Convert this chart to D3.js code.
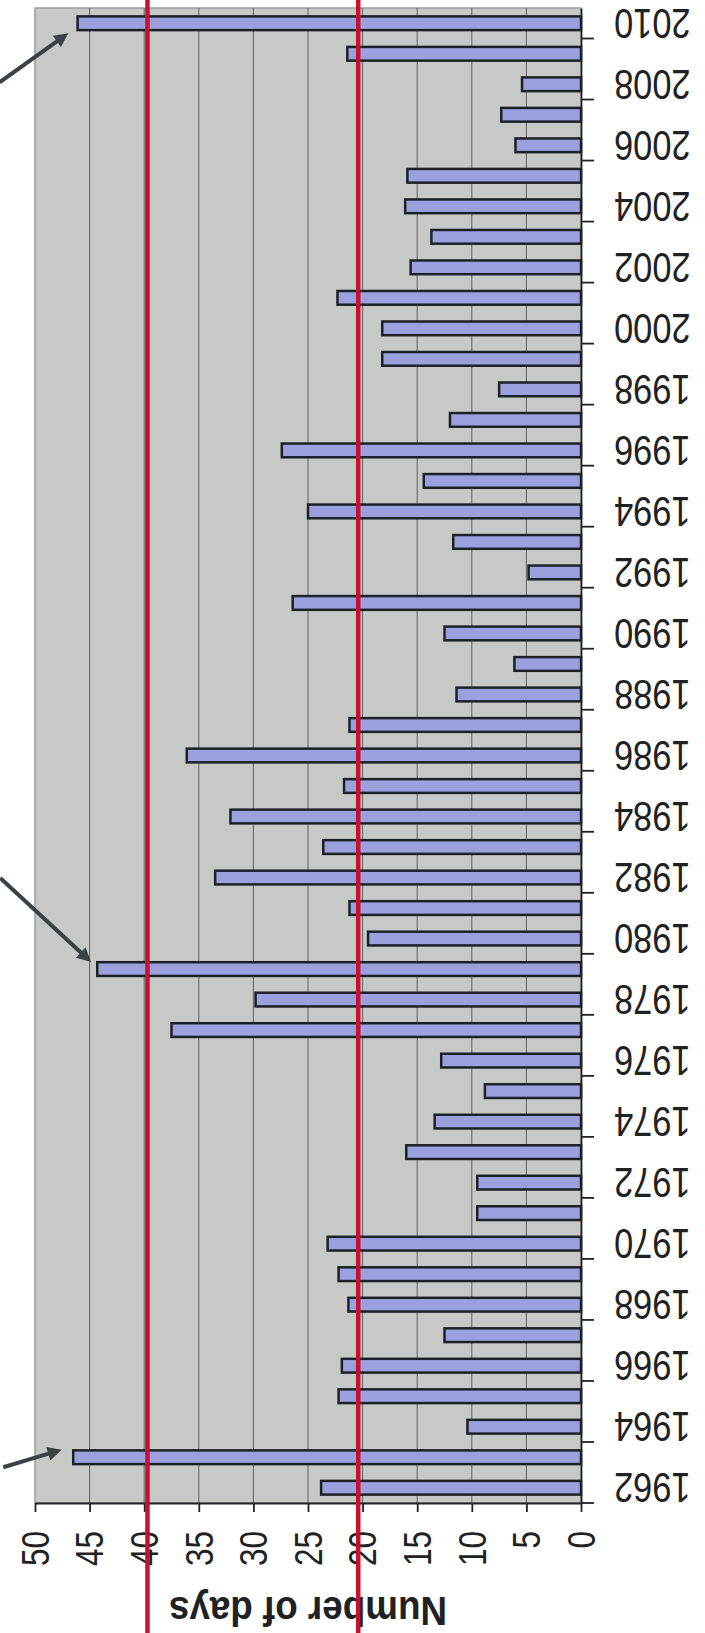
<!DOCTYPE html>
<html>
<head>
<meta charset="utf-8">
<script src="https://cdn.jsdelivr.net/npm/d3@7"></script>
<style>
  body { margin: 0; background: #fff; }
  svg { display: block; }
  .axis path, .axis line { stroke: #1e2224; stroke-width: 1.8; }
  .axis text { font-family: "Liberation Sans", Arial, sans-serif; fill: #1e2224; }
</style>
</head>
<body>
<div id="chart-area"></div>
<script>
// DATA

const years = [1962, 1963, 1964, 1965, 1966, 1967, 1968, 1969, 1970, 1971,
  1972, 1973, 1974, 1975, 1976, 1977, 1978, 1979, 1980, 1981,
  1982, 1983, 1984, 1985, 1986, 1987, 1988, 1989, 1990, 1991,
  1992, 1993, 1994, 1995, 1996, 1997, 1998, 1999, 2000, 2001,
  2002, 2003, 2004, 2005, 2006, 2007, 2008, 2009, 2010];

const days = [23.8, 46.5, 10.4, 22.2, 21.9, 12.5, 21.3, 22.2, 23.2, 9.5,
  9.5, 16.0, 13.4, 8.8, 12.8, 37.5, 29.8, 44.3, 19.5, 21.2,
  33.5, 23.6, 32.1, 21.7, 36.1, 21.2, 11.4, 6.1, 12.5, 26.4,
  4.8, 11.7, 25.0, 14.4, 27.4, 12.0, 7.5, 18.2, 18.2, 22.3,
  15.6, 13.7, 16.1, 15.9, 6.0, 7.3, 5.4, 21.4, 46.1];

const yearLabels = [1962, 1964, 1966, 1968, 1970, 1972, 1974, 1976, 1978, 1980,
  1982, 1984, 1986, 1988, 1990, 1992, 1994, 1996, 1998, 2000,
  2002, 2004, 2006, 2008, 2010];

const dayTicks = [0, 5, 10, 15, 20, 25, 30, 35, 40, 45, 50];

const referenceLines = [39.7, 20.4];

const flaggedYears = [2010, 1979, 1963];

// CHART AREA

let width = 705,
  height = 1633;

let plot = { left: 35, right: 581, top: 8, bottom: 1503 };

let svg = d3
  .select("#chart-area")
  .append("svg")
  .attr("width", width)
  .attr("height", height);

let data = years.map(function(yr, i) {
  return { year: yr, days: days[i] };
});

// SCALES (the chart is drawn turned on its side: days run right to left)

let x = d3.scaleLinear().domain([0, 50]).range([plot.right, plot.left]);

let y = d3
  .scaleBand()
  .domain(years.slice().reverse())
  .range([plot.top, plot.bottom])
  .paddingInner(0.55)
  .paddingOuter(0.275);

// plot background
svg
  .append("rect")
  .attr("x", plot.left)
  .attr("y", plot.top)
  .attr("width", plot.right - plot.left)
  .attr("height", plot.bottom - plot.top)
  .attr("fill", "#c6c9c6")
  .attr("stroke", "#9a9d9a")
  .attr("stroke-width", 1.5);

// gridlines
svg
  .append("g")
  .selectAll("line")
  .data(dayTicks.filter(d => d > 0 && d < 50))
  .enter()
  .append("line")
  .attr("x1", d => x(d))
  .attr("x2", d => x(d))
  .attr("y1", plot.top)
  .attr("y2", plot.bottom)
  .attr("stroke", "#5e6260")
  .attr("stroke-width", 1);

// ---- DRAW BARS ----
svg
  .append("g")
  .selectAll(".bar")
  .data(data)
  .enter()
  .append("rect")
  .attr("class", "bar")
  .attr("x", d => x(d.days))
  .attr("y", d => y(d.year))
  .attr("width", d => x(0) - x(d.days))
  .attr("height", y.bandwidth())
  .attr("fill", "#9ca0de")
  .attr("stroke", "#1a2228")
  .attr("stroke-width", 2.5);

// ---- DRAW AXIS ----
let xAxis = d3
  .axisBottom(x)
  .tickValues(dayTicks)
  .tickSize(9)
  .tickSizeOuter(0);

let xAxisGroup = svg
  .append("g")
  .attr("class", "x-axis axis")
  .attr("transform", "translate(0," + plot.bottom + ")")
  .call(xAxis);

xAxisGroup
  .selectAll("text")
  .attr("x", 0)
  .attr("y", 0)
  .attr("dy", "0.35em")
  .style("font-size", "38px")
  .style("text-anchor", "end")
  .attr("transform", "translate(0,28) scale(1,0.83) rotate(-90)");

let yAxis = d3
  .axisRight(y)
  .tickValues(yearLabels)
  .tickSize(0)
  .tickSizeOuter(0);

let yAxisGroup = svg
  .append("g")
  .attr("class", "y-axis axis")
  .attr("transform", "translate(" + plot.right + ",0)")
  .call(yAxis);

yAxisGroup
  .selectAll("text")
  .attr("x", 0)
  .attr("y", 0)
  .attr("dy", "0.35em")
  .style("font-size", "42px")
  .style("text-anchor", "end")
  .attr("transform", "translate(33,0) scale(0.82,1) rotate(180)");

// tick marks sit between every second pair of years
yAxisGroup
  .selectAll(".year-tick")
  .data(yearLabels)
  .enter()
  .append("line")
  .attr("class", "year-tick")
  .attr("x1", 0)
  .attr("x2", 13)
  .attr("y1", d => y(d) + y.bandwidth() / 2 + y.step() / 2)
  .attr("y2", d => y(d) + y.bandwidth() / 2 + y.step() / 2);

svg
  .append("text")
  .attr("class", "axis-title")
  .attr("transform", "translate(" + (plot.left + plot.right) / 2 + ",1597) scale(0.92,1) rotate(180)")
  .style("text-anchor", "middle")
  .style("font-family", "'Liberation Sans', Arial, sans-serif")
  .style("font-weight", "bold")
  .style("font-size", "40px")
  .attr("fill", "#1e2224")
  .text("Number of days");

// reference lines
svg
  .append("g")
  .selectAll("line")
  .data(referenceLines)
  .enter()
  .append("line")
  .attr("x1", d => x(d))
  .attr("x2", d => x(d))
  .attr("y1", 0)
  .attr("y2", height)
  .attr("stroke", "#c8102e")
  .attr("stroke-width", 4.5);

// arrows pointing at the extreme years
svg
  .append("defs")
  .append("marker")
  .attr("id", "head")
  .attr("viewBox", "0 0 10 10")
  .attr("refX", 4)
  .attr("refY", 5)
  .attr("markerUnits", "userSpaceOnUse")
  .attr("markerWidth", 17)
  .attr("markerHeight", 14)
  .attr("orient", "auto")
  .append("path")
  .attr("d", "M0,0 L10,5 L0,10 Z")
  .attr("fill", "#3a4246");

let arrowShape = {
  2010: { dx: -8, dy: 9, tx: -70, ty: 50 },
  1979: { dx: -5, dy: -6, tx: -92, ty: -85 },
  1963: { dx: -10, dy: -8, tx: -60, ty: 18 }
};

flaggedYears.forEach(function(yr) {
  let d = data.find(r => r.year === yr);
  let s = arrowShape[yr];
  let tipX = x(d.days) + s.dx;
  let tipY = y(yr) + y.bandwidth() / 2 + s.dy;
  let len = Math.sqrt(s.tx * s.tx + s.ty * s.ty);
  // stop the shaft short so the head makes the point
  let endX = tipX + (s.tx / len) * 10;
  let endY = tipY + (s.ty / len) * 10;
  svg
    .append("line")
    .attr("x1", tipX + s.tx)
    .attr("y1", tipY + s.ty)
    .attr("x2", endX)
    .attr("y2", endY)
    .attr("stroke", "#3a4246")
    .attr("stroke-width", 4)
    .attr("marker-end", "url(#head)");
});
</script>
</body>
</html>
